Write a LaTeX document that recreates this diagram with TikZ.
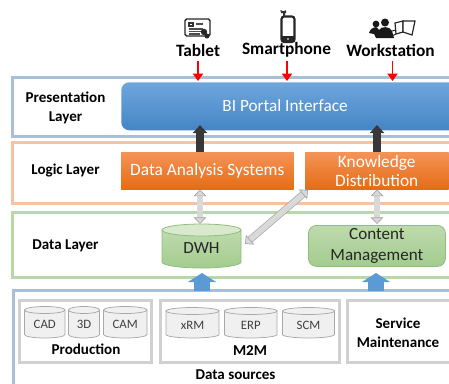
\documentclass[tikz,border=0pt]{standalone}
\usepackage{fontspec}
\setmainfont{Carlito}
\usetikzlibrary{arrows.meta,calc,shapes.geometric}
\definecolor{laybl}{HTML}{A9BFD8}
\definecolor{layor}{HTML}{F5C3A2}
\definecolor{laygr}{HTML}{B9D8A8}
\definecolor{srcgr}{HTML}{D0D0D0}
\definecolor{cylln}{HTML}{A8A8A8}
\definecolor{cylfl}{HTML}{F0F0F0}
\definecolor{gofl}{HTML}{D9D9D9}
\definecolor{goln}{HTML}{A5A5A5}
\definecolor{uparrow}{HTML}{5B9BD5}
\definecolor{bluetop}{HTML}{6EA6DC}
\definecolor{bluebot}{HTML}{4585C6}
\definecolor{ortop}{HTML}{F59357}
\definecolor{orbot}{HTML}{E46C14}
\definecolor{grtop}{HTML}{BEDAAE}
\definecolor{grbot}{HTML}{A3CC8E}
\definecolor{grln}{HTML}{8FBF78}
\newcommand{\fs}[1]{\fontsize{#1}{#1}\selectfont}
\newcommand{\cyl}[6]{% name x1 y1 x2 y2 text
  \pgfmathsetmacro{\rx}{(#4-#2)/2}
  \pgfmathsetmacro{\cx}{(#2+#4)/2}
  \path[srcyl] (#2,#3+3.5) -- (#4,#3+3.5) -- (#4,#5-3.5) arc[x radius=\rx,y radius=3.5,start angle=0,end angle=180] -- cycle;
  \path[srcyl] (#2,#3+3.5) arc[x radius=\rx,y radius=3.5,start angle=180,end angle=-180];
  \node[srctext] (#1) at (\cx,{(#3+#5)/2+2.5}) {#6};
}
\tikzset{
  layerbox/.style={draw=#1,line width=2.25pt,fill=white,anchor=north west,inner sep=0pt,outer sep=0pt},
  srcbox/.style={draw=srcgr,line width=2.25pt,fill=white,anchor=north west,inner sep=0pt,outer sep=0pt},
  srcyl/.style={draw=cylln,line width=.55pt,fill=cylfl},
  srctext/.style={text=black!75,font=\fs{9.6},inner sep=0pt},
  lab/.style={font=\bfseries\fs{11.3},text=black,align=center,inner sep=0pt},
  toplab/.style={font=\bfseries\fs{13},text=black,inner sep=0pt},
  bluebox/.style={rounded corners=6pt,top color=bluetop,bottom color=bluebot,inner sep=0pt,anchor=north west},
  orbox/.style={top color=ortop,bottom color=orbot,text=white,font=\fs{13},align=center,inner sep=0pt,anchor=north west,drop},
  drop/.style={preaction={draw=black!25,line width=.8pt,transform canvas={yshift=-.5pt}}},
  grbox/.style={rounded corners=6pt,top color=grtop,bottom color=grbot,draw=grln,line width=.6pt,text=black!85,font=\fs{12.8},align=center,inner sep=0pt,anchor=north west},
  redarr/.style={draw=red,line width=1.4pt,-{Triangle[width=7.5pt,length=5.5pt]}},
  blackarr/.style={draw=black!78,line width=5.6pt,-{Triangle[width=10.5pt,length=6pt]}},
  bluearr/.style={draw=uparrow,line width=11.5pt,-{Triangle[width=21pt,length=6.8pt]}},
  grayarr/.style={draw=goln,line width=.5pt,double=gofl,double distance=4.2pt,{Triangle[width=9.5pt,length=5pt,fill=gofl]}-{Triangle[width=9.5pt,length=5pt,fill=gofl]}},
  icon/.style={draw=black!85,line width=1pt,fill=white},
}
\begin{document}
\begin{tikzpicture}[x=.75pt,y=-.75pt]
\clip (0,0) rectangle (449,383);
% layers
\node[layerbox=laybl,minimum width=460*.75pt,minimum height=59*.75pt] (pres) at (12.5,77.5) {};
\node[layerbox=layor,minimum width=460*.75pt,minimum height=61*.75pt] (logic) at (12.5,142.5) {};
\node[layerbox=laygr,minimum width=460*.75pt,minimum height=65*.75pt] (data) at (12.5,212.5) {};
\node[layerbox=laybl,minimum width=460*.75pt,minimum height=110*.75pt] (src) at (13.5,290.5) {};
% layer labels
\node[lab] (lp) at (65.5,108) {Presentation\\[3pt]Layer};
\node[lab] (ll) at (65.5,170) {Logic Layer};
\node[lab] (ld) at (65.5,246) {Data Layer};
% main boxes
\node[bluebox,minimum width=340*.75pt,minimum height=48*.75pt] (bi) at (121,82) {};
\node[text=white,font=\fs{12.9},inner sep=0pt] (bilab) at (285,106) {BI Portal Interface};
\node[orbox,minimum width=172*.75pt,minimum height=37*.75pt] (das) at (121,152) {Data Analysis Systems};
\node[orbox,minimum width=143*.75pt,minimum height=37*.75pt] (kd) at (305,152) {Knowledge\\[1.5pt]Distribution};
\node[grbox,minimum width=137*.75pt,minimum height=41*.75pt] (cm) at (308,225) {Content\\[2.5pt]Management};
% DWH
\path[top color=grtop,bottom color=grbot,draw=grln,line width=.6pt] (162,230) -- (241,230) -- (241,262) arc[x radius=39.5,y radius=6,start angle=0,end angle=180] -- cycle;
\path[fill=grtop!60!white,draw=grln,line width=.6pt] (162,230) arc[x radius=39.5,y radius=6,start angle=180,end angle=-180];
\node[text=black!85,font=\fs{12.8},inner sep=0pt] (dwh) at (201.5,248) {DWH};
% ports
\coordinate (dasUp) at (200,152);
\coordinate (biL) at (200,125);
\coordinate (kdUp) at (377,152);
\coordinate (biR) at (377,125);
\coordinate (dasDn) at (200,189.5);
\coordinate (dwhUp) at (200,224);
\coordinate (kdDnL) at (308,190);
\coordinate (dwhR) at (245,244);
\coordinate (kdDn) at (377,189.5);
\coordinate (cmUp) at (377,224);
% connectors
\draw[blackarr] (dasUp) -- (biL);
\draw[blackarr] (kdUp) -- (biR);
\draw[grayarr] (dasDn) -- (dwhUp);
\draw[grayarr] (kdDn) -- (cmUp);
\draw[grayarr] (kdDnL) -- (dwhR);
% sources
\node[srcbox,minimum width=132*.75pt,minimum height=62*.75pt] (prod) at (19.5,300.5) {};
\node[srcbox,minimum width=179*.75pt,minimum height=62*.75pt] (m2m) at (160.5,300.5) {};
\node[srcbox,minimum width=110*.75pt,minimum height=62*.75pt] (svc) at (347.5,300.5) {};
\cyl{cad}{24.5}{306.5}{65}{338}{CAD}
\cyl{td}{68.5}{306.5}{99.5}{338}{3D}
\cyl{cam}{103.5}{306.5}{147}{338}{CAM}
\cyl{xrm}{166}{307.5}{219}{338}{xRM}
\cyl{erp}{224.5}{307.5}{277}{338}{ERP}
\cyl{scm}{282.5}{307.5}{334.5}{338}{SCM}
\node[lab] (lprod) at (86,349.5) {Production};
\node[lab] (lm2m) at (250,351) {M2M};
\node[lab] (lsvc) at (398,333) {Service\\[3pt]Maintenance};
\node[lab] (lsrc) at (235.5,375) {Data sources};
% blue arrows
\coordinate (srcL) at (202,291);
\coordinate (dataL) at (202,273);
\coordinate (srcR) at (376,291);
\coordinate (dataR) at (376,273);
\draw[bluearr] (srcL) -- (dataL);
\draw[bluearr] (srcR) -- (dataR);
% top labels
\node[toplab] (tab) at (198,50) {Tablet};
\node[toplab] (sp) at (286.5,50) {Smartphone};
\node[toplab] (ws) at (390.5,50) {Workstation};
\coordinate (biT1) at (198,81);
\coordinate (biT2) at (287,81);
\coordinate (biT3) at (392.5,81);
\coordinate (tabDn) at (198,61);
\coordinate (spDn) at (287,61);
\coordinate (wsDn) at (392.5,61);
\draw[redarr] (tabDn) -- (biT1);
\draw[redarr] (spDn) -- (biT2);
\draw[redarr] (wsDn) -- (biT3);
% tablet icon
\draw[icon,rounded corners=1.2pt] (185,19) rectangle (210,36);
\draw[black!80,line width=.8pt] (189,23) rectangle (193,26);
\draw[black!70,line width=.8pt] (189,29) -- (203,29) (189,31.5) -- (203,31.5) (189,34) -- (200,34) (196,24) -- (203,24);
\fill[black!85] (204,32) circle[radius=3.2] (207,36) circle[radius=2.5];
% phone icon
\draw[draw=black!85,line width=1.6pt,fill=white,rounded corners=2pt] (281.5,16.5) rectangle (294.5,42);
\fill[black!85] (281.5,36) rectangle (294.5,42);
\fill[white] (288,39) circle[radius=.9];
\draw[black!70,line width=1pt] (280.5,10.5) arc[start angle=150,end angle=30,radius=3];
\fill[black!80] (281,11) rectangle (286,13) (283,13) rectangle (285,16);
% workstation icon
\fill[black!90] (376,24) circle[radius=3.4] (385,22.5) circle[radius=4] (369,33) .. controls (371,26) and (378,26) .. (379,30) .. controls (381,26) and (390,26) .. (392,31) -- (394,38) -- (376,38) -- (374,34) -- cycle;
\draw[black!85,line width=.9pt,fill=white] (395,23) -- (403,21) -- (403,32) -- (396,34) -- cycle;
\draw[black!85,line width=.9pt,fill=white] (403,21) -- (415,21) -- (412,35) -- (403,32) -- cycle;
\draw[black!85,line width=.7pt] (392,31) -- (396,30) (396,34) -- (392,36);
\end{tikzpicture}
\end{document}
